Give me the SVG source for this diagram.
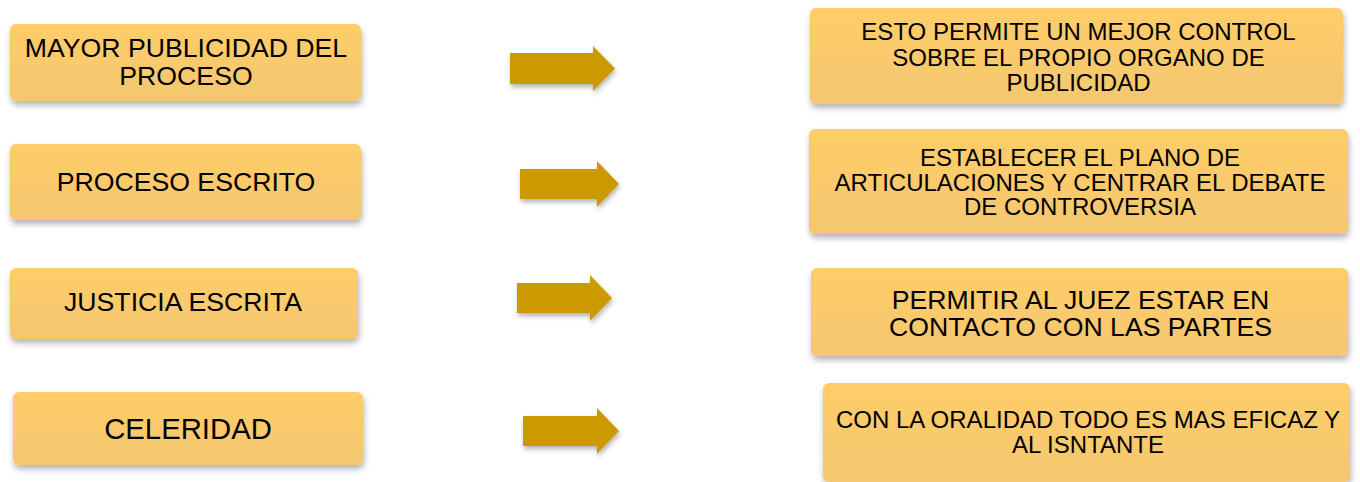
<svg xmlns="http://www.w3.org/2000/svg" width="1360" height="482" viewBox="0 0 1360 482">
  <defs>
    <linearGradient id="boxFill" x1="0" y1="0" x2="0" y2="1">
      <stop offset="0" stop-color="#FFCD69"/>
      <stop offset="1" stop-color="#F4C770"/>
    </linearGradient>
    <filter id="shadow" x="-10%" y="-20%" width="120%" height="150%">
      <feDropShadow dx="1" dy="4" stdDeviation="3" flood-color="#000" flood-opacity="0.3"/>
    </filter>
    <filter id="ashadow" x="-20%" y="-30%" width="140%" height="170%">
      <feDropShadow dx="1" dy="3" stdDeviation="2.5" flood-color="#000" flood-opacity="0.3"/>
    </filter>
  </defs>
  <style>
    .box { fill: url(#boxFill); filter: url(#shadow); }
    .arrow { fill: #CC9A00; filter: url(#ashadow); }
    text { font-family: "Liberation Sans", Arial, sans-serif; fill: #000; text-anchor: middle; }
    .l { font-size: 26.67px; }
    .r { font-size: 24px; }
    .big { font-size: 29.3px; }
  </style>
  <rect width="1360" height="482" fill="#FFFFFF"/>

  <g id="left1">
    <rect class="box" x="10" y="24" width="351" height="77" rx="6"/>
    <text class="l" x="186" y="57">MAYOR PUBLICIDAD DEL</text>
    <text class="l" x="186" y="85">PROCESO</text>
  </g>
  <g id="left2">
    <rect class="box" x="10" y="144" width="351" height="76" rx="6"/>
    <text class="l" x="186" y="190.5">PROCESO ESCRITO</text>
  </g>
  <g id="left3">
    <rect class="box" x="10" y="268" width="348" height="71" rx="6"/>
    <text class="l" x="183" y="310.5">JUSTICIA ESCRITA</text>
  </g>
  <g id="left4">
    <rect class="box" x="13" y="392" width="350" height="73" rx="6"/>
    <text class="big" x="188" y="438.5">CELERIDAD</text>
  </g>

  <g id="right1">
    <rect class="box" x="810" y="8" width="533" height="96" rx="6"/>
    <text class="r" x="1078.5" y="39.5">ESTO PERMITE UN MEJOR CONTROL</text>
    <text class="r" x="1078.5" y="65.5">SOBRE EL PROPIO ORGANO DE</text>
    <text class="r" x="1078.5" y="91">PUBLICIDAD</text>
  </g>
  <g id="right2">
    <rect class="box" x="809" y="129" width="539" height="105" rx="6"/>
    <text class="r" x="1080" y="165.5">ESTABLECER EL PLANO DE</text>
    <text class="r" x="1080" y="190.5">ARTICULACIONES Y CENTRAR EL DEBATE</text>
    <text class="r" x="1080" y="214.5">DE CONTROVERSIA</text>
  </g>
  <g id="right3">
    <rect class="box" x="811" y="268" width="537" height="88" rx="6"/>
    <text class="l" x="1080.5" y="308.5">PERMITIR AL JUEZ ESTAR EN</text>
    <text class="l" x="1080.5" y="335.5">CONTACTO CON LAS PARTES</text>
  </g>
  <g id="right4">
    <rect class="box" x="823" y="383" width="527" height="99" rx="6"/>
    <text class="r" x="1088" y="428">CON LA ORALIDAD TODO ES MAS EFICAZ Y</text>
    <text class="r" x="1088" y="453">AL ISNTANTE</text>
  </g>

  <g id="connectors">
    <polygon class="arrow" points="510,53 593,53 593,46 615,68.5 593,91 593,84 510,84"/>
    <polygon class="arrow" points="520,169 597,169 597,161 619,184 597,207 597,199 520,199"/>
    <polygon class="arrow" points="517,283 590,283 590,275 612,298 590,321 590,313 517,313"/>
    <polygon class="arrow" points="523,416 597,416 597,408 619,431 597,454 597,446 523,446"/>
  </g>
</svg>
